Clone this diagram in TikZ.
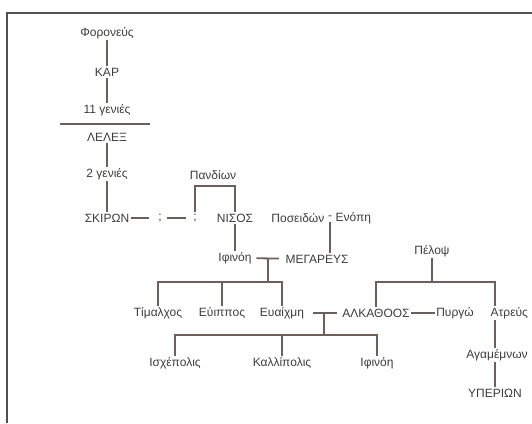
\documentclass[tikz,border=0pt]{standalone}
\usepackage{fontspec}
\setmainfont{Liberation Sans}
\definecolor{stem}{RGB}{110,96,88}
\definecolor{ink}{RGB}{60,60,60}
\definecolor{frame}{RGB}{80,80,80}
\tikzset{
  person/.style={inner sep=1.5pt, text=ink, font=\fontsize{12}{14}\selectfont},
  lineage/.style={draw=stem, line width=1.8pt},
  wed/.style={shorten <=3pt, shorten >=5pt},
}
\begin{document}
\begin{tikzpicture}[x=1pt,y=-1pt]
      \useasboundingbox (0,0) rectangle (532,423);
      \draw[frame, line width=1.6pt] (532,13) -- (7,13) -- (7,423);
      \draw[every node/.style=person]
        (107,33) node (foroneus){Φορονεύς}
        (107,72) node (kar){ΚΑΡ}
        (107,110) node (gen11){11 γενιές}
        (107,137) node (lelex){ΛΕΛΕΞ}
        (107,174) node (gen2){2 γενιές}
        (107,218) node (skiron){ΣΚΙΡΩΝ}
        (160,218) node (q1){;}
        (195,218) node (q2){;}
        (213,175) node (pandion){Πανδίων}
        (235,218) node (nisos){ΝΙΣΟΣ}
        (235,258) node (ifinoi1){Ιφινόη}
        (326,218) node[anchor=east] (poseidon){Ποσειδών}
        (330,218) node (pedash){-}
        (334,218) node[anchor=west] (enopi){Ενόπη}
        (317,259) node (megareus){ΜΕΓΑΡΕΥΣ}
        (158,313) node (timalchos){Τίμαλχος}
        (222,313) node (euippos){Εύιππος}
        (282,313) node (euaichmi){Ευαίχμη}
        (376,313) node (alkathoos){ΑΛΚΑΘΟΟΣ}
        (455,313) node (pyrgo){Πυργώ}
        (489,313) node[anchor=west] (atreus){Ατρεύς}
        (432,251) node (pelops){Πέλοψ}
        (175,363) node (ischepolis){Ισχέπολις}
        (282,363) node (kallipolis){Καλλίπολις}
        (377,363) node (ifinoi2){Ιφινόη}
        (497,355) node (agamemnon){Αγαμέμνων}
        (495,393) node (hyperion){ΥΠΕΡΙΩΝ};
      \coordinate (rulewest) at (60,124);
      \coordinate (ruleeast) at (150,124);
      \coordinate (pandionjoin) at (213,186);
      \coordinate (m1) at (268,282);
      \coordinate (m2) at (324,335);
      \coordinate (p1) at (432,282);
      \begin{scope}[lineage]
        \draw (foroneus) to (kar);
        \draw (kar) to (gen11);
        \draw (rulewest) to (ruleeast);
        \draw (lelex) to (gen2);
        \draw (gen2) to (skiron);
        \draw[shorten >=8pt] (skiron) to (q1);
        \draw[shorten <=4pt, shorten >=6pt] (q1) to (q2);
        \draw (q2) |- (pandionjoin) -| (nisos);
        \draw (nisos) to (ifinoi1);
        \draw (pedash) to (megareus.north -| pedash);
        \draw[wed] (ifinoi1) to (megareus);
        \draw (m1) to (m1 |- ifinoi1);
        \draw (timalchos) |- (m1) -| (euaichmi);
        \draw (euippos) to (euippos |- m1);
        \draw[shorten <=7pt, shorten >=4pt] (euaichmi) to (alkathoos);
        \draw (m2) to (m2 |- euaichmi);
        \draw (ischepolis) |- (m2) -| (ifinoi2);
        \draw (kallipolis) to (kallipolis |- m2);
        \draw (pelops) to (p1);
        \draw (alkathoos) |- (p1) -| (atreus.north -| hyperion);
        \draw (alkathoos) to (pyrgo);
        \draw (atreus.south -| hyperion) to (agamemnon.north -| hyperion);
        \draw (agamemnon.south -| hyperion) to (hyperion);
      \end{scope}
    \end{tikzpicture}
\end{document}
